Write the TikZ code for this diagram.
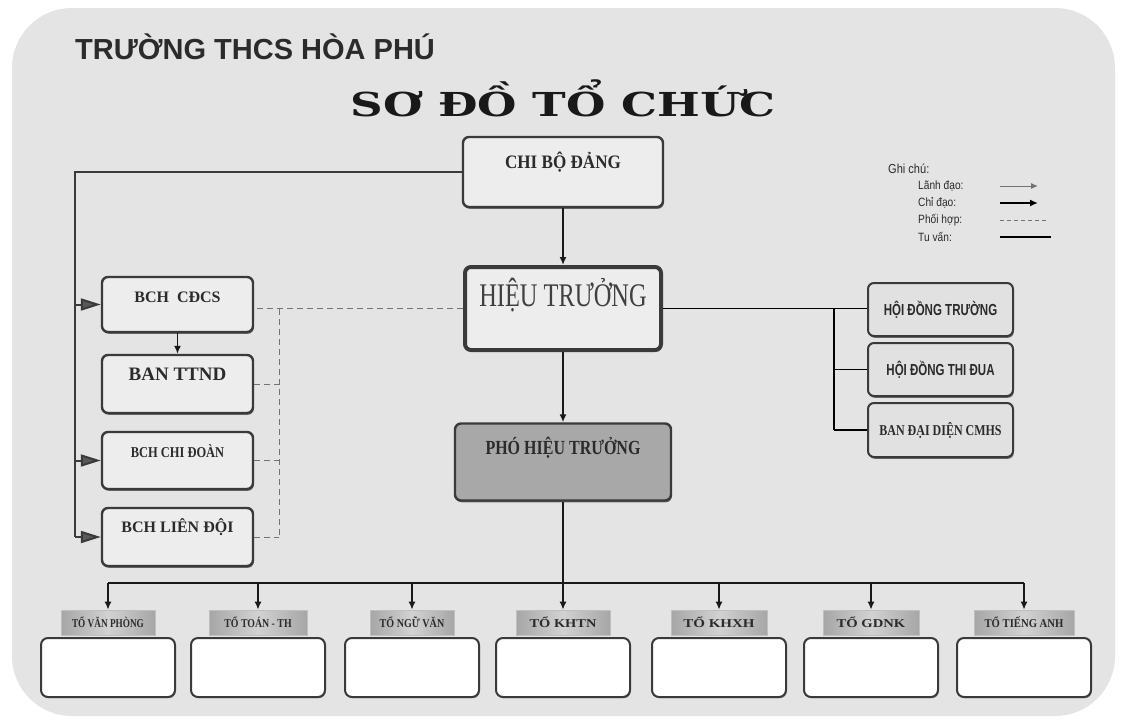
\documentclass[tikz,border=0pt]{standalone}
\usepackage{fontspec}
\usepackage{graphicx}
\setmainfont{Liberation Serif}
\newfontfamily\sansf{Liberation Sans}
\newfontfamily\titlef{DejaVu Serif}
\usetikzlibrary{arrows.meta,shadows,shadings}
\definecolor{panel}{HTML}{E4E4E4}
\definecolor{boxfill}{HTML}{EDEDED}
\definecolor{edge}{HTML}{3A3A3A}
\definecolor{ink}{HTML}{2B2B2B}
\definecolor{phtfill}{HTML}{A8A8A8}
\definecolor{tagdark}{HTML}{A6A6A6}
\definecolor{taglight}{HTML}{D2D2D2}
\newcommand\sq[2]{\scalebox{#1}[1]{#2}}
\tikzset{
  box/.style={draw=edge, line width=2.4pt, rounded corners=6pt, fill=boxfill,
    inner sep=0pt, drop shadow={shadow xshift=0.8pt, shadow yshift=-1.8pt, fill=black!70, opacity=0.8}},
  hdbox/.style={box, line width=2pt, fill=boxfill!95!black},
  bbox/.style={draw=edge, line width=2pt, rounded corners=7pt, fill=white, inner sep=0pt,
    minimum width=134pt, minimum height=59pt,
    drop shadow={shadow xshift=0.8pt, shadow yshift=-1.2pt, fill=black!60, opacity=0.7}},
  tag/.style={draw=black!25, line width=0.6pt, left color=tagdark, right color=tagdark, middle color=taglight,
    minimum height=25pt, inner sep=0pt, text=ink, font=\fontsize{12}{12}\selectfont\bfseries},
  btext/.style={text=ink, inner sep=0pt},
  leg/.style={text=ink, inner sep=0pt, font=\sansf\fontsize{13}{13}\selectfont},
  legs/.style={leg, anchor=west, font=\sansf\fontsize{12}{12}\selectfont},
  conn/.style={draw=black!90, line width=1.6pt},
  carrow/.style={conn, -{Latex[length=8pt,width=7pt]}},
  lline/.style={draw=edge, line width=2pt},
  bigarrow/.style={draw=edge, line width=2pt, -{Triangle[length=20pt,width=12pt,fill=black!65]}},
  coordline/.style={draw=black!55, line width=1pt, dash pattern=on 6pt off 4pt},
  lead/.style={draw=black!55, line width=1pt, -{Latex[length=7pt,width=6pt]}},
  direct/.style={draw=black, line width=2pt, -{Latex[length=8pt,width=7pt]}},
  advise/.style={draw=black, line width=1.4pt},
}
\begin{document}
\begin{tikzpicture}[x=1pt,y=-1pt]
\useasboundingbox (0,0) rectangle (1121,720);
\fill[white] (0,0) rectangle (1121,720);
\fill[panel, rounded corners=60pt] (12,8) rectangle (1115,716);

% headings
\node[anchor=west, text=ink, inner sep=0pt] (school) at (75,47)
  {\sansf\bfseries\fontsize{29}{29}\selectfont TRƯỜNG THCS HÒA PHÚ};
\node[text=black!90, inner sep=0pt] (title) at (563,98)
  {\sq{1.37}{\titlef\bfseries\fontsize{33}{33}\selectfont SƠ ĐỒ TỔ CHỨC}};

% legend
\node[leg, anchor=west] (gc) at (888,169) {\sq{0.85}{Ghi chú:}};
\node[legs] (l1) at (918,186) {\sq{0.85}{Lãnh đạo:}};
\node[legs] (l2) at (918,203) {\sq{0.85}{Chỉ đạo:}};
\node[legs] (l3) at (918,220) {\sq{0.85}{Phối hợp:}};
\node[legs] (l4) at (918,237) {\sq{0.85}{Tu vấn:}};
\coordinate (a1s) at (1000,186); \coordinate (a1e) at (1038,186);
\coordinate (a2s) at (1000,203); \coordinate (a2e) at (1038,203);
\coordinate (a3s) at (1000,220); \coordinate (a3e) at (1046,220);
\coordinate (a4s) at (1000,237); \coordinate (a4e) at (1051,237);
\draw[lead] (a1s) -- (a1e);
\draw[direct] (a2s) -- (a2e);
\draw[draw=black!55, line width=1pt, dash pattern=on 4pt off 3pt] (a3s) -- (a3e);
\draw[advise] (a4s) -- (a4e);

% central column
\node[box, minimum width=200pt, minimum height=70pt] (cbd) at (563,172) {};
\node[btext] (cbdt) at ([yshift=10pt]cbd.center)
  {\fontsize{19}{19}\selectfont\bfseries\sq{0.9}{CHI BỘ ĐẢNG}};
\node[box, line width=4pt, minimum width=196pt, minimum height=83pt] (ht) at (563,308.5) {};
\node[btext, text=black!75] (htt) at ([yshift=13pt]ht.center)
  {\fontsize{33}{33}\selectfont\sq{0.74}{HIỆU TRƯỞNG}};
\node[box, fill=phtfill, minimum width=216pt, minimum height=77pt] (pht) at (563,462) {};
\node[btext] (phtt) at ([yshift=14pt]pht.center)
  {\fontsize{20}{20}\selectfont\bfseries\sq{0.8}{PHÓ HIỆU TRƯỞNG}};

% left column
\node[box, minimum width=151pt, minimum height=55pt] (cdcs) at (177.5,304.5) {};
\node[btext] (cdcst) at ([yshift=7.5pt]cdcs.center) {\fontsize{16}{16}\selectfont\bfseries BCH\ \ CĐCS};
\node[box, minimum width=151pt, minimum height=58pt] (ttnd) at (177.5,384) {};
\node[btext] (ttndt) at ([yshift=10pt]ttnd.center) {\fontsize{19}{19}\selectfont\bfseries BAN TTND};
\node[box, minimum width=151pt, minimum height=57pt] (chidoan) at (177.5,460.5) {};
\node[btext] (chidoant) at ([yshift=9.5pt]chidoan.center) {\fontsize{15}{15}\selectfont\bfseries\sq{0.83}{BCH CHI ĐOÀN}};
\node[box, minimum width=151pt, minimum height=58pt] (liendoi) at (177.5,537) {};
\node[btext] (liendoit) at ([yshift=10pt]liendoi.center) {\fontsize{16}{16}\selectfont\bfseries BCH LIÊN ĐỘI};

% right column
\node[hdbox, minimum width=145pt, minimum height=53pt] (hd1) at (940.5,309.5) {};
\node[btext] (hd1t) at (hd1.center) {\sansf\fontsize{16}{16}\selectfont\bfseries\sq{0.72}{HỘI ĐỒNG TRƯỜNG}};
\node[hdbox, minimum width=145pt, minimum height=53pt] (hd2) at (940.5,369.5) {};
\node[btext] (hd2t) at (hd2.center) {\sansf\fontsize{16}{16}\selectfont\bfseries\sq{0.72}{HỘI ĐỒNG THI ĐUA}};
\node[hdbox, minimum width=145pt, minimum height=54pt] (hd3) at (940.5,430) {};
\node[btext] (hd3t) at (hd3.center) {\fontsize{15}{15}\selectfont\bfseries\sq{0.8}{BAN ĐẠI DIỆN CMHS}};

% bottom row
\foreach \i/\x/\w/\s/\lab in {1/108/94/0.77/TỔ VĂN PHÒNG, 2/258/98/0.82/TỔ TOÁN - TH, 3/412/84/0.84/TỔ NGỮ VĂN,
    4/563/94/1.2/TỔ KHTN, 5/719/96/1.25/TỔ KHXH, 6/871/96/1.22/TỔ GDNK, 7/1024/100/0.89/TỔ TIẾNG ANH}{
  \node[tag, minimum width=\w] (t\i) at (\x,622.5) {\sq{\s}{\lab}};
  \node[bbox] (b\i) at (\x,667.5) {};
}

% connectors: central
\draw[carrow] (cbd.south) -- (ht.north);
\draw[carrow] (ht.south) -- (pht.north);
\coordinate (bj) at (563,583);
\draw[conn] (pht.south) -- (bj);
\draw[conn] (t1.north |- bj) -- (t7.north |- bj);
\foreach \i in {1,...,7}{
  \draw[carrow] (t\i.north |- bj) -- (t\i.north);
}

% connectors: party line to left column
\coordinate (lx) at (75,0);
\draw[lline] (cbd.west) -- (cbd.west -| lx) -- (lx |- liendoi.west);
\draw[bigarrow] (lx |- cdcs.west) -- (cdcs.west);
\draw[bigarrow] (lx |- chidoan.west) -- (chidoan.west);
\draw[bigarrow] (lx |- liendoi.west) -- (liendoi.west);
\draw[carrow, line width=1.4pt] (cdcs.south) -- (ttnd.north);

% coordination (dashed)
\coordinate (dv) at (279,0);
\draw[coordline] (ht.west) -- (ht.west -| cdcs.east);
\draw[coordline] (ht.west -| dv) -- (dv |- liendoi.east);
\draw[coordline] (ttnd.east) -- (ttnd.east -| dv);
\draw[coordline] (chidoan.east) -- (chidoan.east -| dv);
\draw[coordline] (liendoi.east) -- (liendoi.east -| dv);

% advisory (right)
\coordinate (hv) at (834,0);
\draw[advise] (ht.east) -- (ht.east -| hd1.west);
\draw[advise] (ht.east -| hv) -- (hv |- hd3.west);
\draw[advise] (hv |- hd2.west) -- (hd2.west);
\draw[advise] (hv |- hd3.west) -- (hd3.west);
\end{tikzpicture}
\end{document}
